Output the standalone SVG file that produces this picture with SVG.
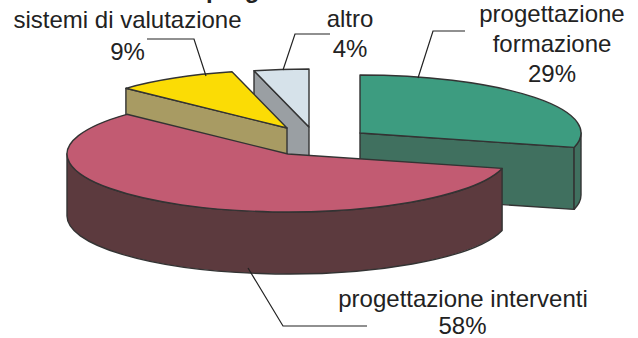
<svg xmlns="http://www.w3.org/2000/svg" width="638" height="338" viewBox="0 0 638 338">
<style>
  .lbl { font-family: "Liberation Sans", Arial, sans-serif; font-size: 24px; fill: #222; text-anchor: middle; }
  .ttl { font-family: "Liberation Sans", Arial, sans-serif; font-size: 24px; font-weight: bold; fill: #222; }
  .edge { stroke: #333; stroke-width: 1.4; stroke-linejoin: round; }
  .lead { fill: none; stroke: #222; stroke-width: 1.2; }
</style>
<rect width="638" height="338" fill="#fff"/>
<text class="ttl" x="206" y="-2">progettazione</text>

<g id="slice-altro">
  <path class="edge" fill="#9a9fa3" d="M254,70.8 L309,127 L309,189 L254,132.8 Z"/>
  <path class="edge" fill="#d6e2ea" d="M309,127 L254,70.8 A221,58 0 0,1 309,69 Z"/>
</g>
<g id="slice-sistemi">
  <path class="edge" fill="#a89b63" d="M125.9,88.3 L287,128 L287,190 L125.9,150.3 Z"/>
  <path class="edge" fill="#fbdc05" d="M287,128 L125.9,88.3 A221,58 0 0,1 232,71.8 Z"/>
</g>
<g id="slice-formazione">
  <path class="edge" fill="#40705f" d="M360,133 L574.1,147.4 L574.1,209.4 L360,195 Z"/>
  <path class="edge" fill="#40705f" d="M581,133 A221,58 0 0,1 574.1,147.4 L574.1,209.4 A221,58 0 0,0 581,195 Z"/>
  <path class="edge" fill="#3d9c80" d="M360,133 L360,75 A221,58 0 0,1 574.1,147.4 Z"/>
</g>
<g id="slice-interventi">
  <path class="edge" fill="#5c3a3e" d="M502.1,168.4 A221,58 0 0,1 67,154 L67,216 A221,58 0 0,0 502.1,230.4 Z"/>
  <path class="edge" fill="#c25b72" d="M288,154 L502.1,168.4 A221,58 0 1,1 126.9,114.3 Z"/>
</g>

<g id="connectors">
  <polyline class="lead" points="147,39 194,39 206,76"/>
  <polyline class="lead" points="283,70 295,34 330,34"/>
  <polyline class="lead" points="418,78 433,31 465,31"/>
  <polyline class="lead" points="248,268 283,326 367,326"/>
</g>

<g id="labels">
  <text class="lbl" x="127.5" y="28">sistemi di valutazione</text>
  <text class="lbl" x="127.5" y="60">9%</text>
  <text class="lbl" x="350" y="27">altro</text>
  <text class="lbl" x="350" y="57">4%</text>
  <text class="lbl" x="552" y="22">progettazione</text>
  <text class="lbl" x="552" y="52">formazione</text>
  <text class="lbl" x="552" y="82">29%</text>
  <text class="lbl" x="463" y="307">progettazione interventi</text>
  <text class="lbl" x="462.5" y="334">58%</text>
</g>
</svg>
